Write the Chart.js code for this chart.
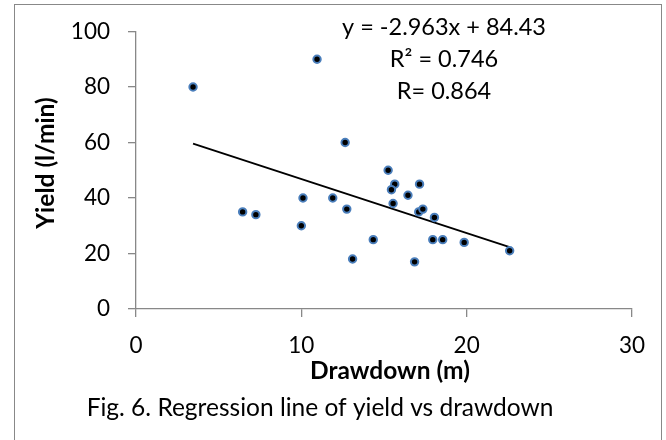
<!DOCTYPE html>
<html>
<head>
<meta charset="utf-8">
<script src="https://cdn.jsdelivr.net/npm/chart.js@4.4.1/dist/chart.umd.min.js"></script>
<style>
body { margin: 0; background: #fff; }
#caixa { position: relative; width: 666px; height: 440px; overflow: hidden; }
#moldura { position: absolute; left: 14px; top: 4px; width: 648px; height: 470px; border: 1px solid #888; box-sizing: border-box; }
canvas { position: absolute; left: 0; top: 0; }
</style>
</head>
<body>
<div id="caixa">
  <div id="moldura"></div>
  <canvas id="ct-chart1" width="666" height="440"></canvas>
</div>
<script>
// valores
const drawdown  = [3.45, 10.95, 12.65, 6.45, 7.25, 10.1, 10.0, 11.9, 12.75, 14.35, 13.1, 15.25, 15.65, 15.45, 17.15, 16.45, 15.55, 17.1, 17.35, 18.05, 17.95, 18.55, 19.85, 16.85, 22.6];
const yieldLmin = [80, 90, 60, 35, 34, 40, 30, 40, 36, 25, 18, 50, 45, 43, 45, 41, 38, 35, 36, 33, 25, 25, 24, 17, 21];
const trendX = [3.45, 22.6];
const trendY = [59.6, 22.3];
const xTicks = [0, 10, 20, 30];
const yTicks = [0, 20, 40, 60, 80, 100];
const equacao = ['y = -2.963x + 84.43', 'R\u00B2 = 0.746', 'R= 0.864'];
const tituloX = 'Drawdown (m)';
const tituloY = 'Yield (l/min)';
const legenda = 'Fig. 6. Regression line of yield vs drawdown';

const pontos = drawdown.map((x, i) => ({ x: x, y: yieldLmin[i] }));
const linha = trendX.map((x, i) => ({ x: x, y: trendY[i] }));

// textos da figura (equacao, titulos dos eixos, legenda)
const textos = {
  id: 'textos',
  afterDraw(chart) {
    const ctx = chart.ctx;
    ctx.save();
    ctx.fillStyle = '#000';
    ctx.textAlign = 'center';
    ctx.textBaseline = 'middle';
    ctx.font = '23.5px Lato';
    equacao.forEach(function (t, i) { ctx.fillText(t, 444, 27 + i * 32); });
    ctx.font = 'bold 24.5px Lato';
    ctx.fillText(tituloX, 390, 371);
    ctx.save();
    ctx.translate(46, 163);
    ctx.rotate(-Math.PI / 2);
    ctx.fillText(tituloY, 0, 0);
    ctx.restore();
    ctx.font = '24.5px Lato';
    ctx.fillText(legenda, 320, 408);
    ctx.restore();
  }
};

const ctx = document.getElementById('ct-chart1');

const myChart = new Chart(ctx, {
  type: 'scatter',
  data: {
    datasets: [{
      label: 'Yield',
      data: pontos,
      backgroundColor: '#000',
      borderColor: '#4a7ebb',
      pointRadius: 3.7,
      pointHoverRadius: 3.7,
      borderWidth: 2
    }, {
      label: 'Linear',
      type: 'line',
      data: linha,
      borderColor: '#000',
      borderWidth: 1.8,
      pointRadius: 0,
      fill: false
    }]
  },
  options: {
    responsive: false,
    animation: false,
    layout: { padding: { left: 0, right: 34, top: 23, bottom: 0 } },
    plugins: {
      legend: { display: false },
      tooltip: { enabled: false }
    },
    scales: {
      x: {
        type: 'linear',
        min: 0,
        max: 30,
        afterBuildTicks: function (s) { s.ticks = xTicks.map(v => ({ value: v })); },
        afterFit: function (s) { s.height = 131; },
        grid: { drawOnChartArea: false, drawTicks: true, tickLength: 8, color: '#888', lineWidth: 1.3 },
        border: { color: '#888', width: 1.3 },
        ticks: { color: '#000', font: { family: 'Lato', size: 22.5 }, padding: 15, maxRotation: 0 }
      },
      y: {
        type: 'linear',
        min: 0,
        max: 100,
        afterBuildTicks: function (s) { s.ticks = yTicks.map(v => ({ value: v })); },
        afterFit: function (s) { s.width = 136; },
        grid: { drawOnChartArea: false, drawTicks: true, tickLength: 8, color: '#888', lineWidth: 1.3 },
        border: { color: '#888', width: 1.3 },
        ticks: { color: '#000', font: { family: 'Lato', size: 22.5 }, padding: 18 }
      }
    }
  },
  plugins: [textos]
});
</script>
</body>
</html>
